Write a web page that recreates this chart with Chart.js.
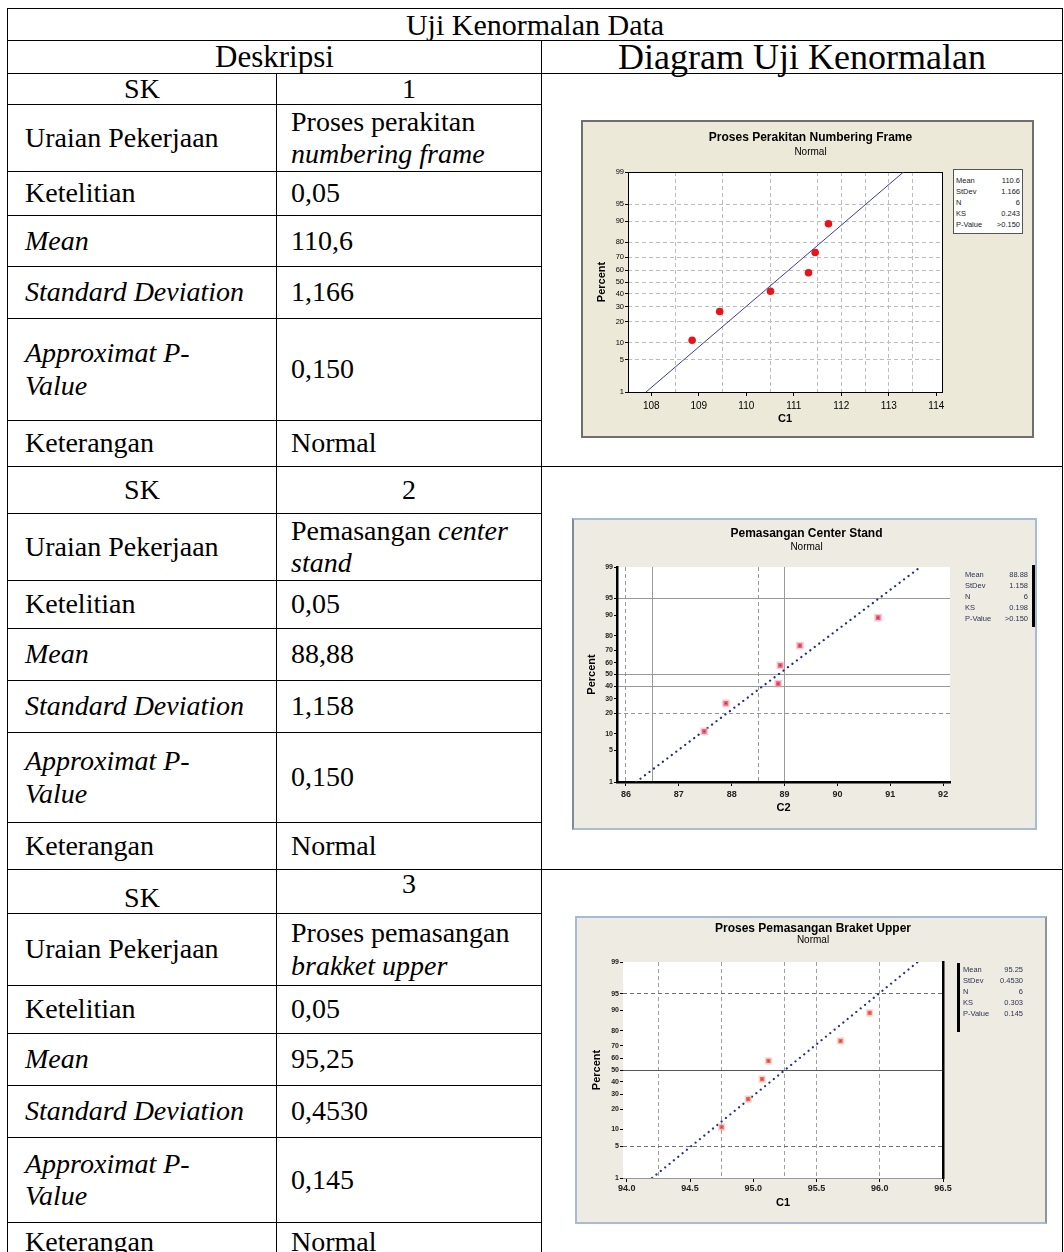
<!DOCTYPE html>
<html>
<head>
<meta charset="utf-8">
<title>Uji Kenormalan Data</title>
<script src="https://cdn.jsdelivr.net/npm/chart.js@4.4.1/dist/chart.umd.min.js"></script>
<style>
html,body{margin:0;padding:0;background:#fff;}
body{width:1064px;height:1252px;overflow:hidden;position:relative;}
table.t{position:absolute;left:7px;top:8px;border-collapse:collapse;table-layout:fixed;width:1055px;
  font-family:"Liberation Serif","Times New Roman",serif;font-size:28px;line-height:1.15;color:#000;}
table.t td{border:1px solid #000;padding:0 0 0 17px;vertical-align:middle;white-space:nowrap;}
table.t td.v{padding-left:14px;}
table.t td.ctr{text-align:center;padding:0;}
table.t tr.one td{line-height:28px;}
.box{position:absolute;box-sizing:border-box;}
.box canvas{position:absolute;left:0;top:0;}
.stats{position:absolute;box-sizing:border-box;font-family:"Liberation Sans",Arial,sans-serif;font-size:7.5px;line-height:11px;}
.stats div{display:flex;justify-content:space-between;white-space:nowrap;}
.vline{position:absolute;background:#000;}
</style>
</head>
<body>
<table class="t">
  <colgroup><col style="width:269px"><col style="width:265px"><col style="width:521px"></colgroup>
  <tr class="one" style="height:32px"><td class="ctr" colspan="3" style="font-size:30px">Uji Kenormalan Data</td></tr>
  <tr class="one" style="height:33px"><td class="ctr" colspan="2" style="font-size:31px">Deskripsi</td><td class="ctr" style="font-size:36px">Diagram Uji Kenormalan</td></tr>

  <tr class="one" style="height:31px"><td class="ctr">SK</td><td class="ctr">1</td><td rowspan="7"></td></tr>
  <tr style="height:67px"><td>Uraian Pekerjaan</td><td class="v">Proses perakitan<br><i>numbering frame</i></td></tr>
  <tr style="height:44px"><td>Ketelitian</td><td class="v">0,05</td></tr>
  <tr style="height:51px"><td><i>Mean</i></td><td class="v">110,6</td></tr>
  <tr style="height:52px"><td><i>Standard Deviation</i></td><td class="v">1,166</td></tr>
  <tr style="height:102px"><td><i>Approximat P-<br>Value</i></td><td class="v">0,150</td></tr>
  <tr style="height:46px"><td>Keterangan</td><td class="v">Normal</td></tr>

  <tr style="height:47px"><td class="ctr">SK</td><td class="ctr">2</td><td rowspan="7"></td></tr>
  <tr style="height:67px"><td>Uraian Pekerjaan</td><td class="v">Pemasangan <i>center</i><br><i>stand</i></td></tr>
  <tr style="height:48px"><td>Ketelitian</td><td class="v">0,05</td></tr>
  <tr style="height:52px"><td><i>Mean</i></td><td class="v">88,88</td></tr>
  <tr style="height:52px"><td><i>Standard Deviation</i></td><td class="v">1,158</td></tr>
  <tr style="height:90px"><td><i>Approximat P-<br>Value</i></td><td class="v">0,150</td></tr>
  <tr style="height:47px"><td>Keterangan</td><td class="v">Normal</td></tr>

  <tr style="height:44px"><td class="ctr" style="vertical-align:bottom;line-height:30px">SK</td><td class="ctr" style="vertical-align:top;line-height:28px">3</td><td rowspan="7"></td></tr>
  <tr style="height:72px"><td>Uraian Pekerjaan</td><td class="v">Proses pemasangan<br><i>brakket upper</i></td></tr>
  <tr style="height:48px"><td>Ketelitian</td><td class="v">0,05</td></tr>
  <tr style="height:52px"><td><i>Mean</i></td><td class="v">95,25</td></tr>
  <tr style="height:52px"><td><i>Standard Deviation</i></td><td class="v">0,4530</td></tr>
  <tr style="height:85px"><td><i>Approximat P-<br>Value</i></td><td class="v">0,145</td></tr>
  <tr style="height:40px"><td>Keterangan</td><td class="v">Normal</td></tr>
</table>

<div class="box" style="left:581px;top:120px;width:453px;height:318px;border:2px solid #6f6f6f;background:#ece9d8;"><canvas id="c1" width="449" height="314"></canvas></div>
<div class="box" style="left:572px;top:518px;width:465px;height:312px;border:2px solid #a6bcd6;border-left-color:#7d8a98;background:#eeebe2;"><canvas id="c2" width="461" height="308"></canvas></div>
<div class="box" style="left:575px;top:916px;width:472px;height:308px;border:2px solid #a6bcd6;border-right-color:#8c959e;background:#eeebe2;"><canvas id="c3" width="468" height="304"></canvas></div>

<div class="stats" id="s1" style="left:953px;top:169px;width:70px;height:65px;border:1px solid #555;background:#fff;padding:5px 2px 0 2px;color:#222;"></div>
<div class="stats" id="s2" style="left:965px;top:569px;width:63px;color:#2a3550;"></div>
<div class="vline" style="left:1032px;top:565px;width:2.5px;height:62px;"></div>
<div class="stats" id="s3" style="left:963px;top:964px;width:60px;color:#2a3550;"></div>
<div class="vline" style="left:957px;top:963px;width:2.5px;height:69px;"></div>

<script>
// ---------- data ----------
const pctTicks = [1, 5, 10, 20, 30, 40, 50, 60, 70, 80, 90, 95, 99];
const statLabels = ['Mean', 'StDev', 'N', 'KS', 'P-Value'];

// Chart 1: Proses Perakitan Numbering Frame
const c1X = [108.86, 109.44, 110.51, 111.31, 111.45, 111.73];
const c1P = [10.9, 26.6, 42.2, 57.8, 73.4, 89.1];
const c1FitX = [107.89, 113.31];
const c1FitP = [1, 99];
const c1XTicks = [108, 109, 110, 111, 112, 113, 114];
const c1GridX = [108.5, 109.5, 110.5, 111.5, 112, 112.5, 113, 113.5];
const c1GridY = [5, 10, 20, 30, 40, 50, 60, 70, 80, 90, 95];
const c1Stats = ['110.6', '1.166', '6', '0.243', '>0.150'];

// Chart 2: Pemasangan Center Stand
const c2X = [87.48, 87.89, 88.88, 88.92, 89.29, 90.77];
const c2P = [10.9, 26.6, 42.2, 57.8, 73.4, 89.1];
const c2FitX = [86.19, 91.57];
const c2FitP = [1, 99];
const c2XTicks = [86, 87, 88, 89, 90, 91, 92];
const c2GridXSolid = [86.5, 89];
const c2GridXDash = [86, 88.5];
const c2GridYSolid = [40, 50, 95];
const c2GridYDash = [20];
const c2Stats = ['88.88', '1.158', '6', '0.198', '>0.150'];

// Chart 3: Proses Pemasangan Braket Upper
const c3X = [94.75, 94.96, 95.07, 95.12, 95.69, 95.92];
const c3P = [10.9, 26.6, 42.2, 57.8, 73.4, 89.1];
const c3FitX = [94.20, 96.30];
const c3FitP = [1, 99];
const c3XTicks = [94.0, 94.5, 95.0, 95.5, 96.0, 96.5];
const c3GridXDash = [94.25, 94.75, 95.25, 95.5, 96.0];
const c3GridYSolid = [50];
const c3GridYDash = [5, 95];
const c3Stats = ['95.25', '0.4530', '6', '0.303', '0.145'];

// ---------- normal probability scale ----------
function probit(p) {
  const a = [-3.969683028665376e+01, 2.209460984245205e+02, -2.759285104469687e+02, 1.383577518672690e+02, -3.066479806614716e+01, 2.506628277459239e+00];
  const b = [-5.447609879822406e+01, 1.615858368580409e+02, -1.556989798598866e+02, 6.680131188771972e+01, -1.328068155288572e+01];
  const c = [-7.784894002430293e-03, -3.223964580411365e-01, -2.400758277161838e+00, -2.549732539343734e+00, 4.374664141464968e+00, 2.938163982698783e+00];
  const d = [7.784695709041462e-03, 3.224671290700398e-01, 2.445134137142996e+00, 3.754408661907416e+00];
  const pl = 0.02425, ph = 1 - pl;
  let q, r;
  if (p < pl) {
    q = Math.sqrt(-2 * Math.log(p));
    return (((((c[0]*q+c[1])*q+c[2])*q+c[3])*q+c[4])*q+c[5]) / ((((d[0]*q+d[1])*q+d[2])*q+d[3])*q+1);
  }
  if (p <= ph) {
    q = p - 0.5; r = q * q;
    return (((((a[0]*r+a[1])*r+a[2])*r+a[3])*r+a[4])*r+a[5])*q / (((((b[0]*r+b[1])*r+b[2])*r+b[3])*r+b[4])*r+1);
  }
  q = Math.sqrt(-2 * Math.log(1 - p));
  return -(((((c[0]*q+c[1])*q+c[2])*q+c[3])*q+c[4])*q+c[5]) / ((((d[0]*q+d[1])*q+d[2])*q+d[3])*q+1);
}
function normcdf(z) {
  const t = 1 / (1 + 0.2316419 * Math.abs(z));
  const y = 0.3989422804 * Math.exp(-z * z / 2) * t * (0.3193815 + t * (-0.3565638 + t * (1.781478 + t * (-1.821256 + t * 1.330274))));
  return z > 0 ? 1 - y : y;
}
class ProbabilityScale extends Chart.LinearScale {
  determineDataLimits() { this.min = this.options.min; this.max = this.options.max; }
  buildTicks() { return (this.options.tickValues || []).map(v => ({ value: v })); }
  configure() {
    super.configure();
    this._zMin = probit(this.min / 100);
    this._zMax = probit(this.max / 100);
  }
  getPixelForValue(v) {
    if (v === null || v === undefined) return NaN;
    return this.getPixelForDecimal((probit(v / 100) - this._zMin) / (this._zMax - this._zMin));
  }
  getValueForPixel(px) {
    return normcdf(this._zMin + this.getDecimalForPixel(px) * (this._zMax - this._zMin)) * 100;
  }
}
ProbabilityScale.id = 'probability';
ProbabilityScale.defaults = {};
Chart.register(ProbabilityScale);

const SANS = '"Liberation Sans", Arial, sans-serif';
Chart.defaults.font.family = SANS;
Chart.defaults.color = '#000';

const plotBg = {
  id: 'plotBg',
  beforeDraw(chart) {
    const { ctx, chartArea: a } = chart;
    ctx.save(); ctx.fillStyle = '#ffffff';
    ctx.fillRect(a.left, a.top, a.right - a.left, a.bottom - a.top);
    ctx.restore();
  }
};

function gridAxis(kind, values, min, max, color, dash, width) {
  const ax = {
    type: kind === 'y' ? 'probability' : 'linear',
    position: kind === 'y' ? 'left' : 'top',
    min: min, max: max,
    ticks: { display: false },
    grid: { display: true, drawOnChartArea: true, drawTicks: false, color: color, lineWidth: width || 1 },
    border: { display: false, dash: dash || [] },
    afterFit: kind === 'y' ? (s => { s.width = 0; }) : (s => { s.height = 0; })
  };
  if (kind === 'y') ax.tickValues = values;
  else ax.afterBuildTicks = s => { s.ticks = values.map(v => ({ value: v })); };
  return ax;
}

function buildChart(id, o) {
  const scales = {
    x: {
      type: 'linear', position: 'bottom', min: o.xMin, max: o.xMax,
      afterBuildTicks: s => { s.ticks = o.xTicks.map(v => ({ value: v })); },
      afterFit: s => { s.height = o.xAxisH; },
      ticks: { font: o.xTickFont, color: o.tickColor || '#000', padding: o.xTickPad, maxRotation: 0, autoSkip: false, callback: o.xFmt },
      grid: { display: true, drawOnChartArea: false, drawTicks: true, tickLength: 4, tickColor: '#000' },
      border: { display: o.bottomBorder > 0, color: o.bottomColor || '#000', width: o.bottomBorder || 1 },
      title: { display: true, text: o.xTitle, font: { family: SANS, size: 11, weight: 'bold' }, color: '#000', padding: { top: 0, bottom: o.xTitlePadB } }
    },
    y: {
      type: 'probability', position: 'left', min: 1, max: 99, tickValues: pctTicks,
      afterFit: s => { s.width = o.yAxisW; },
      ticks: { font: o.yTickFont, color: o.tickColor || '#000', padding: 1, autoSkip: false, callback: v => String(v) },
      grid: { display: true, drawOnChartArea: false, drawTicks: true, tickLength: 3, tickColor: '#000' },
      border: { display: o.leftBorder > 0, color: '#000', width: o.leftBorder || 1 },
      title: { display: true, text: 'Percent', font: { family: SANS, size: 11, weight: 'bold' }, color: '#000', padding: { top: o.yTitlePadT, bottom: 0 } }
    },
    yR: {
      type: 'linear', position: 'right', afterFit: s => { s.width = o.rightW; },
      ticks: { display: false }, grid: { display: false },
      border: { display: o.rightBorder > 0, color: '#000', width: o.rightBorder || 1 }
    },
    xT: {
      type: 'linear', position: 'top', afterFit: s => { s.height = 0; },
      ticks: { display: false }, grid: { display: false },
      border: { display: o.topBorder > 0, color: '#000', width: o.topBorder || 1 }
    }
  };
  o.grids.forEach((g, i) => {
    scales[(g.kind === 'y' ? 'gy' : 'gx') + i] = gridAxis(g.kind, g.values,
      g.kind === 'y' ? 1 : o.xMin, g.kind === 'y' ? 99 : o.xMax, g.color, g.dash, g.width);
  });
  return new Chart(document.getElementById(id), {
    type: 'scatter',
    data: {
      datasets: [
        {
          data: o.xs.map((x, i) => ({ x: x, y: o.ps[i] })),
          xAxisID: 'x', yAxisID: 'y',
          pointStyle: o.pointStyle, pointRadius: o.pointRadius,
          backgroundColor: o.pointColor, borderColor: o.pointBorder, borderWidth: o.pointBorderW,
          order: 0
        },
        {
          data: o.fitX.map((x, i) => ({ x: x, y: o.fitP[i] })),
          xAxisID: 'x', yAxisID: 'y',
          showLine: true, pointRadius: 0, borderColor: o.lineColor, borderWidth: o.lineWidth,
          borderDash: o.lineDash, borderCapStyle: 'round', fill: false, order: 1
        }
      ]
    },
    options: {
      responsive: false, animation: false, devicePixelRatio: 1,
      layout: { padding: o.padding },
      plugins: {
        legend: { display: false }, tooltip: { enabled: false },
        title: { display: true, text: o.title, color: '#000', font: { family: SANS, size: 12, weight: 'bold', lineHeight: o.titleLH }, padding: { top: o.titlePadT, bottom: o.titlePadB } },
        subtitle: { display: true, text: 'Normal', color: '#000', font: { family: SANS, size: 10, lineHeight: o.subLH }, padding: { top: o.subPadT, bottom: o.subPadB } }
      },
      scales: scales
    },
    plugins: [plotBg]
  });
}

function fillStats(id, values) {
  const el = document.getElementById(id);
  statLabels.forEach((lab, i) => {
    const row = document.createElement('div');
    const a = document.createElement('span'); a.textContent = lab;
    const b = document.createElement('span'); b.textContent = values[i];
    row.appendChild(a); row.appendChild(b); el.appendChild(row);
  });
}

buildChart('c1', {
  title: 'Proses Perakitan Numbering Frame', xTitle: 'C1',
  xs: c1X, ps: c1P, fitX: c1FitX, fitP: c1FitP,
  xMin: 107.51, xMax: 114.12, xTicks: c1XTicks, xFmt: v => String(v),
  grids: [
    { kind: 'x', values: c1GridX, color: '#bdbdbd', dash: [4, 3] },
    { kind: 'y', values: c1GridY, color: '#bdbdbd', dash: [4, 3] }
  ],
  padding: { left: 6, right: 0, top: 0, bottom: 6 },
  titleLH: 1.2, titlePadT: 8, titlePadB: 2, subLH: 1.2, subPadT: 0, subPadB: 13.6,
  yAxisW: 39, yTitlePadT: 6.4, rightW: 90, xAxisH: 38, xTickPad: 4, xTitlePadB: 4.4,
  xTickFont: { size: 10 }, yTickFont: { size: 7.5 },
  leftBorder: 1, bottomBorder: 1, rightBorder: 1, topBorder: 1,
  pointStyle: 'circle', pointRadius: 3.8, pointColor: '#e8141c', pointBorder: '#e8141c', pointBorderW: 0,
  lineColor: '#3a3aa8', lineWidth: 1, lineDash: []
});

buildChart('c2', {
  title: 'Pemasangan Center Stand', xTitle: 'C2',
  xs: c2X, ps: c2P, fitX: c2FitX, fitP: c2FitP,
  xMin: 85.83, xMax: 92.13, xTicks: c2XTicks, xFmt: v => String(v),
  grids: [
    { kind: 'x', values: c2GridXSolid, color: '#9a9a9a' },
    { kind: 'x', values: c2GridXDash, color: '#9a9a9a', dash: [4, 3] },
    { kind: 'y', values: c2GridYSolid, color: '#9a9a9a' },
    { kind: 'y', values: c2GridYDash, color: '#9a9a9a', dash: [4, 3] }
  ],
  padding: { left: 4, right: 0, top: 0, bottom: 6 },
  titleLH: 1.2, titlePadT: 6, titlePadB: 0, subLH: 1.2, subPadT: 0.6, subPadB: 14,
  yAxisW: 39, yTitlePadT: 7.4, rightW: 85, xAxisH: 40, xTickPad: 3.6, xTitlePadB: 7.4,
  xTickFont: { size: 9, weight: 'bold' }, yTickFont: { size: 7, weight: 'bold' }, tickColor: '#222',
  leftBorder: 2.5, bottomBorder: 2.5, rightBorder: 0, topBorder: 0,
  pointStyle: 'rect', pointRadius: 3.4, pointColor: '#c42b3a', pointBorder: 'rgba(255,160,180,0.55)', pointBorderW: 3,
  lineColor: '#1f2f80', lineWidth: 2.2, lineDash: [0.1, 5.5]
});

buildChart('c3', {
  title: 'Proses Pemasangan Braket Upper', xTitle: 'C1',
  xs: c3X, ps: c3P, fitX: c3FitX, fitP: c3FitP,
  xMin: 93.97, xMax: 96.5, xTicks: c3XTicks, xFmt: v => v.toFixed(1),
  grids: [
    { kind: 'x', values: c3GridXDash, color: '#a0a0a0', dash: [4, 3] },
    { kind: 'y', values: c3GridYSolid, color: '#555555' },
    { kind: 'y', values: c3GridYDash, color: '#707070', dash: [4, 3] }
  ],
  padding: { left: 4, right: 0, top: 0, bottom: 6 },
  titleLH: 1.0, titlePadT: 5, titlePadB: 0, subLH: 1.0, subPadT: 0, subPadB: 17,
  yAxisW: 42, yTitlePadT: 9.4, rightW: 102, xAxisH: 38, xTickPad: 1, xTitlePadB: 6.4,
  xTickFont: { size: 9, weight: 'bold' }, yTickFont: { size: 7, weight: 'bold' }, tickColor: '#222',
  leftBorder: 0, bottomBorder: 1, bottomColor: '#999', rightBorder: 2.5, topBorder: 0,
  pointStyle: 'rect', pointRadius: 3, pointColor: '#d02a2a', pointBorder: 'rgba(255,170,150,0.5)', pointBorderW: 3,
  lineColor: '#223388', lineWidth: 2.2, lineDash: [0.1, 5.5]
});

fillStats('s1', c1Stats);
fillStats('s2', c2Stats);
fillStats('s3', c3Stats);
</script>
</body>
</html>
